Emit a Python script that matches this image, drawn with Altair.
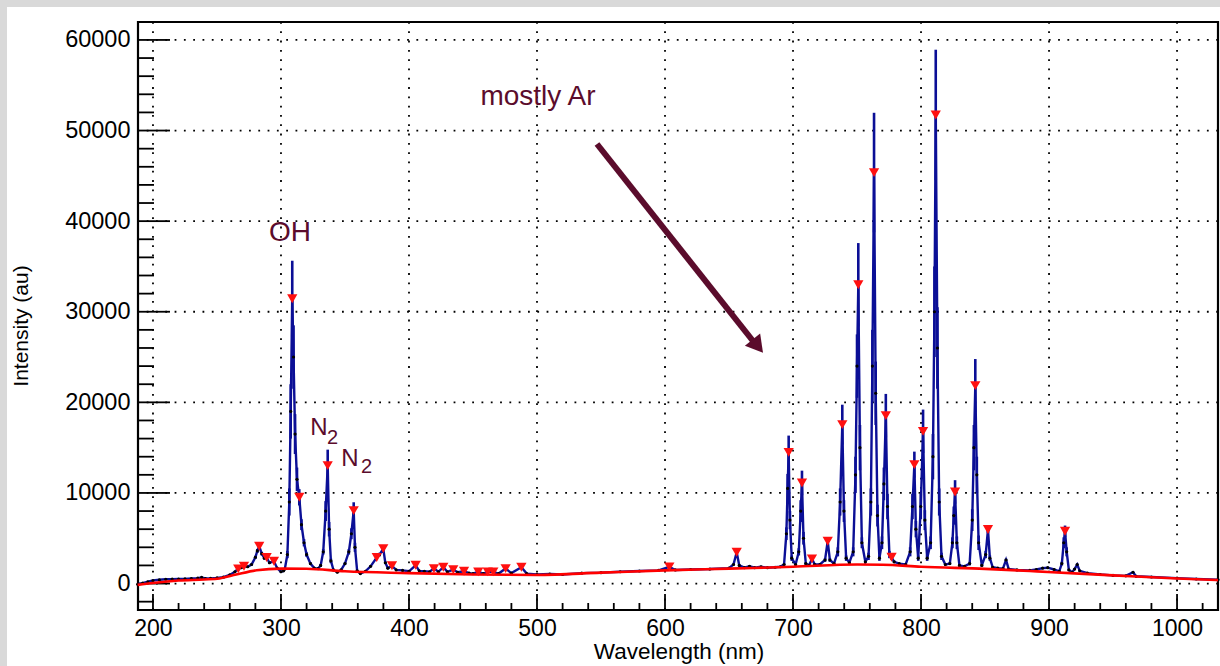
import altair as alt
import pandas as pd

# ---------------- data ----------------
# spectrum points: (wavelength nm, intensity au, error bar half-length)
SPEC_UV = [
    (188, -80, 30), (192, 50, 30), (196, 200, 30), (200, 330, 30), (205, 420, 30),
    (210, 470, 30), (215, 490, 30), (220, 500, 30), (225, 520, 30), (230, 560, 30),
    (235, 600, 30), (238, 680, 40), (241, 560, 30), (245, 570, 30), (250, 620, 40),
    (255, 700, 50), (260, 950, 60), (264, 1300, 80), (266.6, 1620, 100), (269, 1750, 100),
    (271.1, 1910, 100), (274, 1850, 100), (277, 2100, 120), (280, 2900, 180), (281.5, 3600, 220),
    (283, 4110, 250), (285, 3300, 200), (287, 2800, 150), (288.8, 2870, 150), (291, 2300, 120),
    (294.5, 2460, 120), (297, 1700, 100), (300, 1300, 80), (302, 1400, 80),
]
SPEC_OH_N2 = [
    (303, 1600, 80), (305, 3200, 400), (306.5, 9000, 1500), (307.6, 19000, 3000), (308.8, 31430, 4200),
    (309.8, 25000, 3500), (311, 16500, 2200), (312.5, 11500, 1300), (314.3, 9520, 900), (316, 6500, 600),
    (318, 4500, 400), (320, 3200, 250), (323, 2200, 150), (326, 1700, 100), (329, 1650, 100),
    (331, 2000, 150), (333, 3500, 300), (334.9, 8000, 1100), (336.5, 13010, 1770), (337.6, 6000, 800),
    (339, 2500, 250), (341, 1500, 100), (344, 1250, 80), (347, 1500, 100), (350, 2200, 150),
    (353, 3500, 300), (355, 5500, 600), (356.8, 8050, 920), (357.8, 4000, 500), (359.5, 1400, 100),
    (362, 1100, 80), (366, 1350, 80), (370, 1900, 100), (374.8, 2870, 150), (377, 3200, 200),
    (379.9, 3860, 250), (381.5, 2300, 150), (383.5, 1700, 100), (386.7, 1950, 100), (390, 1500, 60),
]
SPEC_VIS = [
    (395, 1450, 60), (400, 1350, 60), (405.2, 2000, 80), (408, 1400, 60), (412, 1350, 60),
    (416, 1300, 60), (419.5, 1650, 80), (423, 1300, 60), (426.8, 1800, 80), (430, 1300, 60),
    (434.6, 1540, 80), (438, 1250, 60), (443, 1360, 60), (447, 1150, 60), (450, 1100, 60),
    (454.1, 1290, 60), (458, 1100, 60), (461.5, 1290, 60), (465.9, 1290, 60), (470, 1100, 60),
    (475.5, 1650, 80), (480, 1150, 60), (487.8, 1800, 80), (492, 1100, 60), (500, 1000, 60),
    (510, 1050, 60), (520, 1000, 60), (535, 1150, 60), (550, 1200, 60), (565, 1300, 60),
    (580, 1380, 60), (595, 1450, 60), (603.4, 1840, 80), (608, 1500, 60), (620, 1550, 60),
    (635, 1600, 60), (650, 1700, 60), (653.5, 2100, 100), (656, 3450, 300), (658, 2000, 100),
    (662, 1750, 60), (666, 1900, 80), (670, 1750, 60), (675, 1850, 80), (680, 1750, 60),
    (686, 1800, 60), (690, 1850, 60),
]
SPEC_AR = [
    (693, 2100, 100), (694.8, 5500, 700), (695.8, 10500, 1600), (696.6, 14480, 1850), (697.6, 7000, 1000),
    (699, 2800, 300), (702, 2100, 100), (704.5, 3500, 400), (706, 8000, 1200), (707, 11100, 1360),
    (708.2, 5000, 700), (710, 2200, 150), (712.5, 2000, 100), (714.8, 2720, 200), (717, 2100, 100),
    (721, 2100, 100), (725, 2600, 200), (727.1, 4670, 370), (728.8, 2600, 200), (732, 2200, 100),
    (735, 3500, 500), (736.8, 9000, 1500), (738.5, 17540, 2200), (739.8, 8000, 1200), (741.5, 2800, 300),
    (744, 2300, 150), (747, 3500, 500), (748.8, 12000, 2000), (750, 24000, 3500), (751, 32980, 4600),
    (752.3, 15000, 2500), (753.8, 4500, 600), (756.5, 2400, 150), (759, 3000, 400), (760.8, 9000, 1500),
    (762, 24000, 4000), (763.3, 45360, 6600), (764.6, 21000, 3500), (766, 7500, 1200), (767.5, 2800, 300),
    (769.5, 4500, 700), (771, 11000, 1800), (772.5, 18530, 2400), (773.8, 8500, 1400), (775.3, 3200, 400),
    (777, 2900, 300), (779, 2400, 150), (783, 2200, 100), (788, 2100, 100), (791.5, 3500, 500),
    (793.3, 8500, 1400), (794.8, 13120, 1440), (796, 6000, 900), (797.8, 2800, 300), (799.8, 8500, 1400),
    (801.6, 16800, 2400), (803, 7000, 1100), (804.8, 2800, 300), (807.5, 4500, 700), (809.3, 14000, 2500),
    (810.5, 30000, 5000), (811.5, 51720, 7200), (812.8, 26000, 4500), (814.2, 9000, 1500), (816, 3000, 400),
    (819, 2100, 100), (822.5, 2200, 150), (824.5, 4500, 600), (825.6, 7500, 1000), (826.6, 10110, 1300),
    (828, 4500, 700), (830, 2000, 150), (834, 1900, 100), (838, 2200, 200), (840, 7000, 1200),
    (841.3, 15000, 2500), (842.4, 21840, 2940), (843.6, 12000, 2000), (845, 4500, 800), (847.5, 2000, 150),
    (850.5, 3200, 400), (852.3, 5960, 360), (853.8, 2800, 300), (856, 1800, 100),
]
SPEC_NIR = [
    (860, 1700, 60), (864, 1650, 60), (866.4, 2600, 150), (868.5, 1600, 60), (875, 1500, 60),
    (885, 1450, 60), (890, 1550, 60), (895, 1700, 80), (899, 1750, 80), (904, 1550, 60),
    (908, 1350, 60), (910, 2200, 200), (911.5, 4500, 600), (912.5, 5770, 630), (913.8, 3500, 500),
    (915.5, 1500, 80), (918, 1250, 60), (920, 1600, 80), (922, 2100, 100), (924, 1400, 60),
    (930, 1150, 60), (940, 1000, 60), (950, 900, 60), (960, 850, 60), (965.6, 1250, 60),
    (968, 800, 60), (980, 720, 60), (1000, 600, 60), (1015, 500, 60), (1032, 430, 60),
]

# red continuum (baseline) curve
BASE_WL = [188, 200, 220, 240, 252, 265, 281, 300, 320, 350, 400, 450, 500, 550, 600,
           650, 700, 750, 770, 800, 850, 885, 899, 950, 1000, 1032]
BASE_I = [-150, 60, 330, 450, 560, 990, 1470, 1650, 1640, 1350, 1150, 1000, 950, 1200, 1450,
          1650, 1850, 2100, 2080, 1850, 1620, 1380, 1280, 900, 550, 380]

# detected peaks (red triangles)
PEAK_WL = [266.6, 271.1, 283, 288.8, 294.5, 308.8, 314.3, 336.5, 356.8, 374.8, 379.9, 386.7,
           405.2, 419.5, 426.8, 434.6, 443, 454.1, 461.5, 465.9, 475.5, 487.8, 603.4, 656,
           696.6, 707, 714.8, 727.1, 738.5, 751, 763.3, 772.5, 777, 794.8, 801.6, 811.5,
           826.6, 842.4, 852.3, 912.5]
PEAK_I = [1620, 1910, 4110, 2870, 2460, 31430, 9520, 13010, 8050, 2870, 3860, 1960,
          2020, 1650, 1800, 1540, 1360, 1290, 1290, 1290, 1650, 1800, 1840, 3450,
          14480, 11100, 2720, 4670, 17540, 32980, 45360, 18530, 2900, 13120, 16800, 51720,
          10110, 21840, 5960, 5770]

X_MAJOR = [200, 300, 400, 500, 600, 700, 800, 900, 1000]
X_MINOR = [v for v in range(200, 1031, 20) if v % 100 != 0]
Y_MAJOR = [0, 10000, 20000, 30000, 40000, 50000, 60000]
Y_MINOR = [v for v in range(-2000, 60001, 2000) if v % 10000 != 0]

# ---------------- tables ----------------
spec = pd.DataFrame(SPEC_UV + SPEC_OH_N2 + SPEC_VIS + SPEC_AR + SPEC_NIR,
                    columns=["wl", "i", "err"])
spec["lo"] = spec["i"] - spec["err"]
spec["hi"] = spec["i"] + spec["err"]
base = pd.DataFrame({"wl": BASE_WL, "i": BASE_I})
peaks = pd.DataFrame({"wl": PEAK_WL, "i": PEAK_I})
one = pd.DataFrame({"a": [0]})

W, H = 1080, 588
FONT = "Liberation Sans"
MAROON = "#5b0c2c"
NAVY = "#0b0f96"

xs = alt.Scale(domain=[188.3, 1032], nice=False, zero=False)
ys = alt.Scale(domain=[-2920, 61980], nice=False, zero=False)
X_AX = alt.Axis(values=X_MAJOR, title=None, grid=False, ticks=False, domain=False,
                labelFontSize=23, labelFont=FONT, labelColor="black", labelPadding=7,
                format="d", labelFlush=False, labelOverlap=False)
Y_AX = alt.Axis(values=Y_MAJOR, title=None, grid=False, ticks=False, domain=False,
                labelFontSize=23.5, labelFont=FONT, labelColor="black", labelPadding=8,
                format="d", labelFlush=False, labelOverlap=False)


def X(field):
    return alt.X(f"{field}:Q", scale=xs, axis=X_AX)


def Y(field):
    return alt.Y(f"{field}:Q", scale=ys, axis=Y_AX)


# gray page edge
strip_top = alt.Chart(one).mark_rect(color="#d9d9d9").encode(
    x=alt.value(-138), x2=alt.value(1082), y=alt.value(-22), y2=alt.value(-15))
strip_left = alt.Chart(one).mark_rect(color="#d9d9d9").encode(
    x=alt.value(-138), x2=alt.value(-131), y=alt.value(-22), y2=alt.value(644))

# grid
xgrid = alt.Chart(pd.DataFrame({"v": X_MAJOR})).mark_rule(
    color="black", strokeWidth=1.8, strokeDash=[1.8, 7.5]).encode(x=X("v"))
ygrid = alt.Chart(pd.DataFrame({"v": Y_MAJOR})).mark_rule(
    color="black", strokeWidth=1.8, strokeDash=[1.8, 7.5]).encode(y=Y("v"))

# inward ticks
xmaj = alt.Chart(pd.DataFrame({"v": X_MAJOR})).mark_rule(color="black", strokeWidth=1.8).encode(
    x=X("v"), y=alt.value(H), y2=alt.value(H - 16))
xmin = alt.Chart(pd.DataFrame({"v": X_MINOR})).mark_rule(color="black", strokeWidth=1.8).encode(
    x=X("v"), y=alt.value(H), y2=alt.value(H - 7))
ymaj = alt.Chart(pd.DataFrame({"v": Y_MAJOR})).mark_rule(color="black", strokeWidth=1.8).encode(
    y=Y("v"), x=alt.value(0), x2=alt.value(32))
ymin = alt.Chart(pd.DataFrame({"v": Y_MINOR})).mark_rule(color="black", strokeWidth=1.8).encode(
    y=Y("v"), x=alt.value(0), x2=alt.value(16))

# spectrum
sp = alt.Chart(spec)
errbars = sp.mark_rule(color=NAVY, strokeWidth=2.6).encode(x=X("wl"), y=Y("lo"), y2="hi:Q")
line = sp.mark_line(color=NAVY, strokeWidth=2.4).encode(x=X("wl"), y=Y("i"))
dots = sp.mark_circle(color="black", size=10, opacity=1).encode(x=X("wl"), y=Y("i"))
baseline = alt.Chart(base).mark_line(color="#ff0000", strokeWidth=2.6, interpolate="monotone").encode(
    x=X("wl"), y=Y("i"))
tri = alt.Chart(peaks).mark_point(shape="triangle-down", filled=True, color="#ff1010",
                                  size=105, opacity=1).encode(x=X("wl"), y=Y("i"))

# annotations
def txt(s, x, y, size, angle=0, color=MAROON):
    kw = dict(text=s, font=FONT, fontSize=size, color=color, align="center", baseline="middle")
    if angle:
        kw["angle"] = angle
    return alt.Chart(one).mark_text(**kw).encode(x=alt.value(x), y=alt.value(y))

oh = txt("OH", 152, 211, 28)
n2a = txt("N", 181, 406, 24)
n2a_sub = txt("2", 194.5, 416, 20)
n2b = txt("N", 212, 437, 24)
n2b_sub = txt("2", 228.5, 445, 20)
ar = txt("mostly Ar", 400, 75, 28)
xtitle = txt("Wavelength (nm)", 541, 630, 22.5, color="black")
ytitle = txt("Intensity (au)", -116, 304, 21, angle=270, color="black")

arrow_line = alt.Chart(one).mark_rule(color=MAROON, strokeWidth=6).encode(
    x=alt.value(459), y=alt.value(122), x2=alt.value(615), y2=alt.value(319))
arrow_head = alt.Chart(one).mark_point(shape="triangle", filled=True, color=MAROON, opacity=1,
                                       size=380, angle=141.6).encode(
    x=alt.value(618), y=alt.value(322))

chart = alt.layer(
    strip_top, strip_left, xgrid, ygrid, xmaj, xmin, ymaj, ymin,
    errbars, line, dots, baseline, tri,
    oh, n2a, n2a_sub, n2b, n2b_sub, ar, xtitle, ytitle, arrow_line, arrow_head,
).properties(
    width=W, height=H,
    autosize=alt.AutoSizeParams(type="none"),
    padding={"left": 138, "top": 22, "right": 2, "bottom": 56},
    background="white",
).configure_view(stroke="black", strokeWidth=2.2)

chart.save("out.html", embed_options={"renderer": "svg", "actions": False})
